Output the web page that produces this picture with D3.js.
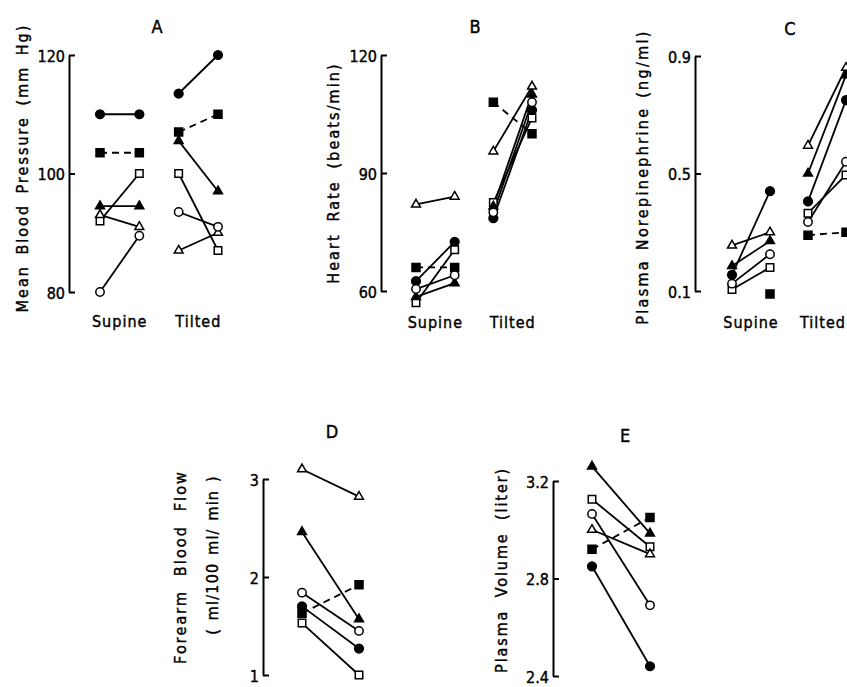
<!DOCTYPE html>
<html>
<head>
<meta charset="utf-8">
<script src="https://cdn.jsdelivr.net/npm/d3@7"></script>
<style>
  body { margin: 0; background: #fff; }
  svg { display: block; }
  text { font-family: "DejaVu Sans Condensed", "DejaVu Sans", sans-serif; fill: #000; stroke: #000; stroke-width: 0.4px; }
</style>
</head>
<body>
<svg id="chart" width="847" height="687"></svg>
<script>
// subjects, in the order used by every value array below
const subjects = ["filledCircle", "filledSquare", "openSquare", "filledTriangle", "openTriangle", "openCircle"];
const conditions = ["Supine", "Tilted"];

// each row: [supine before, supine after, tilted before, tilted after]
const bloodPressure = [
  [110, 110, 113.5, 120],
  [103.5, 103.5, 107, 110],
  [92, 100, 100, 87],
  [94.5, 94.5, 105.5, 97],
  [93, 91, 87, 90],
  [80, 89.5, 93.5, 91]
];
const heartRate = [
  [62.5, 72.5, 78.5, 106],
  [66, 66, 108, 100],
  [57, 70.5, 82.5, 104],
  [58.5, 62, 81.5, 110],
  [82, 84, 95.5, 112],
  [60.5, 64, 80, 108]
];
const norepinephrine = [
  [0.155, 0.44, 0.405, 0.75],
  [null, 0.09, 0.29, 0.30],
  [0.105, 0.18, 0.365, 0.495],
  [0.185, 0.27, 0.50, 0.835],
  [0.255, 0.30, 0.595, 0.86],
  [0.125, 0.225, 0.335, 0.54]
];
// each row: [before, after]
const forearmFlow = [
  [1.70, 1.27],
  [1.63, 1.92],
  [1.53, 1.0],
  [2.46, 1.57],
  [3.1, 2.82],
  [1.84, 1.45]
];
const plasmaVolume = [
  [2.85, 2.44],
  [2.92, 3.05],
  [3.125, 2.93],
  [3.26, 2.985],
  [3.0, 2.90],
  [3.065, 2.69]
];

const ticksA = [80, 100, 120];
const ticksB = [60, 90, 120];
const ticksC = [0.1, 0.5, 0.9];
const ticksD = [1, 2, 3];
const ticksE = [2.4, 2.8, 3.2];

// marker look per subject
const markerStyle = {
  filledCircle:   { shape: d3.symbolCircle,   size: 60, fill: "#000", dash: null },
  filledSquare:   { shape: d3.symbolSquare,   size: 64, fill: "#000", dash: "7,5" },
  openSquare:     { shape: d3.symbolSquare,   size: 56, fill: "#fff", dash: null },
  filledTriangle: { shape: d3.symbolTriangle, size: 34, fill: "#000", dash: null },
  openTriangle:   { shape: d3.symbolTriangle, size: 34, fill: "#fff", dash: null },
  openCircle:     { shape: d3.symbolCircle,   size: 55, fill: "#fff", dash: null }
};

const W = 847;
const svg = d3.select("#chart");

const panels = [
  { letter: "A", data: bloodPressure, ticks: ticksA, fmt: d3.format("d"),
    axisX: 69, yRange: [292, 55], xRange: [100, 218], letterPos: [157, 33],
    titles: [{ text: "Mean Blood Pressure (mm Hg)", x: 28, y: 168, anchor: "middle", ls: 2.0, ws: 4 }],
    catY: 327 },
  { letter: "B", data: heartRate, ticks: ticksB, fmt: d3.format("d"),
    axisX: 381, yRange: [291, 55], xRange: [416, 532], letterPos: [475, 33],
    titles: [{ text: "Heart Rate (beats/min)", x: 339, y: 173, anchor: "middle", ls: 2.1, ws: 5 }],
    catY: 328 },
  { letter: "C", data: norepinephrine, ticks: ticksC, fmt: d3.format(".1f"),
    axisX: 695, yRange: [291, 56], xRange: [732, 846], letterPos: [790, 35],
    titles: [{ text: "Plasma Norepinephrine (ng/ml)", x: 648, y: 177, anchor: "middle", ls: 2.3, ws: 2 }],
    catY: 328 },
  { letter: "D", data: forearmFlow, ticks: ticksD, fmt: d3.format("d"),
    axisX: 263, yRange: [675, 479], xRange: [302, 359], letterPos: [332, 438],
    titles: [
      { text: "Forearm Blood Flow", x: 186, y: 567, anchor: "middle", ls: 2.1, ws: 7 },
      { text: "( ml/100 ml/ min )", x: 218, y: 555, anchor: "middle", ls: 1.2, ws: 2 }
    ],
    catY: null },
  { letter: "E", data: plasmaVolume, ticks: ticksE, fmt: d3.format(".1f"),
    axisX: 553, yRange: [676, 481], xRange: [592, 650], letterPos: [625, 442],
    titles: [{ text: "Plasma Volume (liter)", x: 507, y: 467, anchor: "end", ls: 1.9, ws: 6 }],
    catY: null }
];

panels.forEach(drawPanel);

function drawPanel(p) {
  const g = svg.append("g");
  const nSlots = p.data[0].length;
  const y = d3.scaleLinear()
    .domain([p.ticks[0], p.ticks[p.ticks.length - 1]])
    .range(p.yRange);
  const x = d3.scalePoint()
    .domain(d3.range(nSlots))
    .range(p.xRange);

  // axis: bracket-like line with ticks pointing right, labels on the left
  const axis = d3.axisLeft(y)
    .tickValues(p.ticks)
    .tickFormat(p.fmt)
    .tickSizeInner(-6)
    .tickSizeOuter(0)
    .tickPadding(4);
  const ax = g.append("g")
    .attr("transform", "translate(" + p.axisX + ",0)")
    .call(axis);
  ax.select(".domain").attr("stroke", "#000").attr("stroke-width", 2);
  ax.selectAll(".tick line").attr("stroke", "#000").attr("stroke-width", 2);
  ax.selectAll(".tick text")
    .attr("font-size", 16)
    .attr("font-family", null)
    .attr("dy", "0.4em");

  // panel letter
  g.append("text")
    .attr("x", p.letterPos[0])
    .attr("y", p.letterPos[1])
    .attr("text-anchor", "middle")
    .attr("font-size", 18)
    .text(p.letter);

  // y axis title(s), rotated
  p.titles.forEach(function(t) {
    g.append("text")
      .attr("transform", "translate(" + t.x + "," + t.y + ") rotate(-90)")
      .attr("text-anchor", t.anchor)
      .attr("font-size", 16)
      .attr("letter-spacing", t.ls)
      .attr("word-spacing", t.ws)
      .text(t.text);
  });

  // condition labels under pairs
  if (p.catY !== null) {
    conditions.forEach(function(c, i) {
      const lbl = g.append("text")
        .attr("y", p.catY)
        .attr("text-anchor", "middle")
        .attr("font-size", 16)
        .attr("letter-spacing", 1)
        .text(c);
      const w = lbl.node().getComputedTextLength();
      const cx = Math.min((x(i * 2) + x(i * 2 + 1)) / 2, W - w / 2 - 1);
      lbl.attr("x", cx);
    });
  }

  // connecting lines, one per pair of slots
  p.data.forEach(function(row, si) {
    const st = markerStyle[subjects[si]];
    for (let k = 0; k < nSlots; k += 2) {
      if (row[k] === null || row[k + 1] === null) continue;
      g.append("line")
        .attr("x1", x(k)).attr("y1", y(row[k]))
        .attr("x2", x(k + 1)).attr("y2", y(row[k + 1]))
        .attr("stroke", "#000")
        .attr("stroke-width", 1.8)
        .attr("stroke-dasharray", st.dash);
    }
  });

  // markers
  p.data.forEach(function(row, si) {
    const st = markerStyle[subjects[si]];
    row.forEach(function(v, k) {
      if (v === null) return;
      g.append("path")
        .attr("d", d3.symbol().type(st.shape).size(st.size)())
        .attr("transform", "translate(" + x(k) + "," + y(v) + ")")
        .attr("fill", st.fill)
        .attr("stroke", "#000")
        .attr("stroke-width", 1.5);
    });
  });
}
</script>
</body>
</html>
